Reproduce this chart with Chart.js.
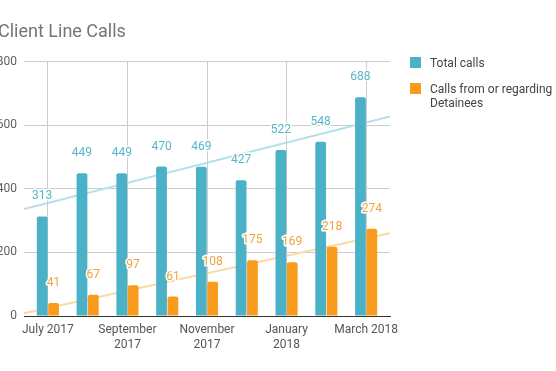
<!DOCTYPE html>
<html>
<head>
<meta charset="utf-8">
<script src="https://cdn.jsdelivr.net/npm/chart.js@4/dist/chart.umd.min.js"></script>
<style>
    body { margin: 0; background: #fff; overflow: hidden; }
    #wrap { position: relative; width: 556px; height: 371px; overflow: hidden; font-family: Roboto, sans-serif; }
    #chart { position: absolute; left: -2px; top: 0; }
    #legend { position: absolute; left: 410px; top: 56px; font-size: 12px; color: #444; }
    .item { position: relative; padding-left: 20px; line-height: 14px; margin-bottom: 12px; white-space: nowrap; }
    .box { position: absolute; left: 0; top: 1px; width: 11px; height: 11px; }
</style>
</head>
<body>
<div id="wrap">
    <canvas id="chart" width="558" height="371"></canvas>
    <div id="legend"></div>
</div>
<script>
// Chart data
const months = ['July 2017', 'August 2017', 'September 2017', 'October 2017', 'November 2017',
    'December 2017', 'January 2018', 'February 2018', 'March 2018'];
const totalCalls = [313, 449, 449, 470, 469, 427, 522, 548, 688];
const detaineeCalls = [41, 67, 97, 61, 108, 175, 169, 218, 274];
const tickLabels = ['July 2017', ['September', '2017'], ['November', '2017'], ['January', '2018'], 'March 2018'];
const yTicks = [0, 200, 400, 600, 800];

const seriesNames = ['Total calls', ['Calls from or regarding', 'Detainees']];
const blue = '#4bb1c7';
const orange = '#f99b1c';

// x runs on a linear scale so the trendlines can reach the plot edges
const xMin = -0.6, xMax = 8.6;

// least squares fit, same as the sheet's trendline
function trend(values) {
    const n = values.length;
    const mx = (n - 1) / 2;
    const my = values.reduce((a, b) => a + b, 0) / n;
    let sxy = 0, sxx = 0;
    values.forEach((v, i) => { sxy += (i - mx) * (v - my); sxx += (i - mx) * (i - mx); });
    const slope = sxy / sxx;
    return [xMin, xMax].map(x => ({ x: x, y: my + slope * (x - mx) }));
}

const toPoints = values => values.map((v, i) => ({ x: i, y: v }));

// draws the value above each bar, with a white halo
const valueLabels = {
    id: 'valueLabels',
    afterDatasetsDraw(chart) {
        const ctx = chart.ctx;
        ctx.save();
        ctx.font = '12px Roboto';
        ctx.textAlign = 'center';
        ctx.textBaseline = 'middle';
        chart.data.datasets.forEach((ds, di) => {
            if (ds.type === 'line') return;
            const meta = chart.getDatasetMeta(di);
            meta.data.forEach((bar, i) => {
                const txt = String(ds.data[i].y);
                const y = bar.y - 20;
                ctx.strokeStyle = '#fff';
                ctx.lineWidth = 3;
                ctx.lineJoin = 'round';
                ctx.strokeText(txt, bar.x, y);
                ctx.fillStyle = ds.labelColor;
                ctx.fillText(txt, bar.x, y);
            });
        });
        ctx.restore();
    }
};

const chart = new Chart(document.getElementById('chart'), {
    type: 'bar',
    data: {
        datasets: [
            {
                label: 'Total calls',
                data: toPoints(totalCalls),
                backgroundColor: blue,
                labelColor: '#58b6ca',
                borderRadius: { topLeft: 2, topRight: 2 },
                borderSkipped: 'bottom',
                categoryPercentage: 0.57,
                barPercentage: 0.95,
                order: 1
            },
            {
                label: 'Calls from or regarding Detainees',
                data: toPoints(detaineeCalls),
                backgroundColor: orange,
                labelColor: '#eea43c',
                borderRadius: { topLeft: 2, topRight: 2 },
                borderSkipped: 'bottom',
                categoryPercentage: 0.57,
                barPercentage: 0.95,
                order: 1
            },
            {
                type: 'line',
                label: 'Trend total',
                data: trend(totalCalls),
                borderColor: '#b3e0ea',
                borderWidth: 2,
                pointRadius: 0,
                order: 2
            },
            {
                type: 'line',
                label: 'Trend detainees',
                data: trend(detaineeCalls),
                borderColor: '#fcd9a4',
                borderWidth: 2,
                pointRadius: 0,
                order: 2
            }
        ]
    },
    options: {
        responsive: false,
        animation: false,
        devicePixelRatio: 1,
        layout: { padding: { left: 0, right: 166, top: 0, bottom: 0 } },
        plugins: {
            legend: { display: false },
            tooltip: { enabled: false },
            title: {
                display: true,
                text: 'Client Line Calls',
                align: 'start',
                color: '#757575',
                font: { family: 'Roboto', size: 18, weight: 'normal' },
                padding: { top: 22, bottom: 18 }
            }
        },
        scales: {
            x: {
                type: 'linear',
                min: xMin,
                max: xMax,
                offset: false,
                afterBuildTicks: s => { s.ticks = [0, 2, 4, 6, 8].map(v => ({ value: v })); },
                afterFit: s => { s.height = 55; },
                ticks: {
                    color: '#555',
                    font: { family: 'Roboto', size: 12 },
                    padding: 7,
                    maxRotation: 0,
                    autoSkip: false,
                    callback: v => tickLabels[v / 2]
                },
                grid: { color: '#cccccc', drawTicks: false, offset: false },
                border: { display: true, color: '#333', width: 1 }
            },
            y: {
                min: 0,
                max: 800,
                afterBuildTicks: s => { s.ticks = yTicks.map(v => ({ value: v })); },
                afterFit: s => { s.width = 26; },
                ticks: {
                    color: '#5f5f5f',
                    font: { family: 'Roboto', size: 12 },
                    padding: 7
                },
                grid: { color: '#cccccc', drawTicks: false },
                border: { display: false }
            }
        }
    },
    plugins: [valueLabels]
});

// html legend, the long name wraps like the original
const legend = document.getElementById('legend');
[blue, orange].forEach((col, i) => {
    const item = document.createElement('div');
    item.className = 'item';
    const box = document.createElement('span');
    box.className = 'box';
    box.style.background = col;
    item.appendChild(box);
    const name = seriesNames[i];
    (Array.isArray(name) ? name : [name]).forEach(line => {
        const d = document.createElement('div');
        d.textContent = line;
        item.appendChild(d);
    });
    legend.appendChild(item);
});
</script>
</body>
</html>
